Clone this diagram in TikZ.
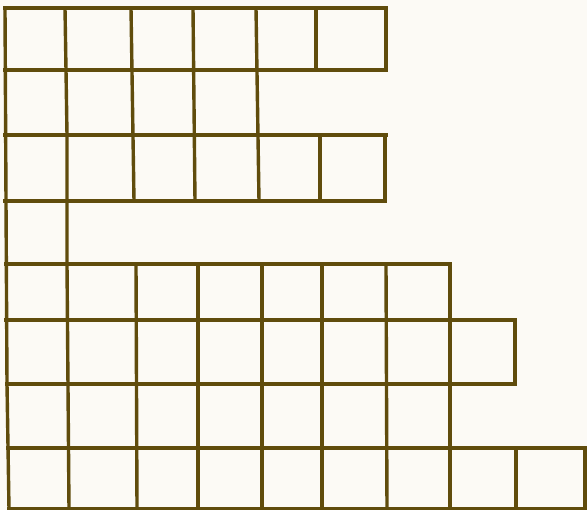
\documentclass[tikz,border=0pt]{standalone}
\begin{document}
\begin{tikzpicture}[x=1pt,y=-1pt,
  gridline/.style={draw={rgb,255:red,96;green,76;blue,12}, line width=3.4pt, line cap=rect, line join=miter}]
\definecolor{paper}{RGB}{252,250,245}
\fill[paper] (0,0) rectangle (587,510);
\useasboundingbox (0,0) rectangle (587,510);
% horizontal lines
\draw[gridline] (5,8) -- (386,8);
\draw[gridline] (5,70) -- (386,70);
\draw[gridline] (5,135) -- (386,135);
\draw[gridline] (5,201) -- (385,201);
\draw[gridline] (6,264) -- (450,264);
\draw[gridline] (6,320) -- (515,320);
\draw[gridline] (7,384) -- (515,384);
\draw[gridline] (8,448) -- (586,448);
\draw[gridline] (9,509) -- (586,509);
% vertical lines
\draw[gridline] (5,8) -- (6,201) -- (7,384) -- (9,509);
\draw[gridline] (65,8) -- (66,70) -- (67,135) -- (67,264) -- (69,509);
\draw[gridline] (131,8) -- (134,201);
\draw[gridline] (136,264) -- (137,509);
\draw[gridline] (193,8) -- (195,201);
\draw[gridline] (198,264) -- (198,509);
\draw[gridline] (256,8) -- (259,201);
\draw[gridline] (262,264) -- (262,509);
\draw[gridline] (316,8) -- (316,70);
\draw[gridline] (320,135) -- (320,201);
\draw[gridline] (322,264) -- (322,509);
\draw[gridline] (386,8) -- (386,70);
\draw[gridline] (385,135) -- (385,201);
\draw[gridline] (386,264) -- (387,509);
\draw[gridline] (450,264) -- (450,509);
\draw[gridline] (515,320) -- (515,384);
\draw[gridline] (516,448) -- (516,509);
\draw[gridline] (585,448) -- (585,509);
\end{tikzpicture}
\end{document}
